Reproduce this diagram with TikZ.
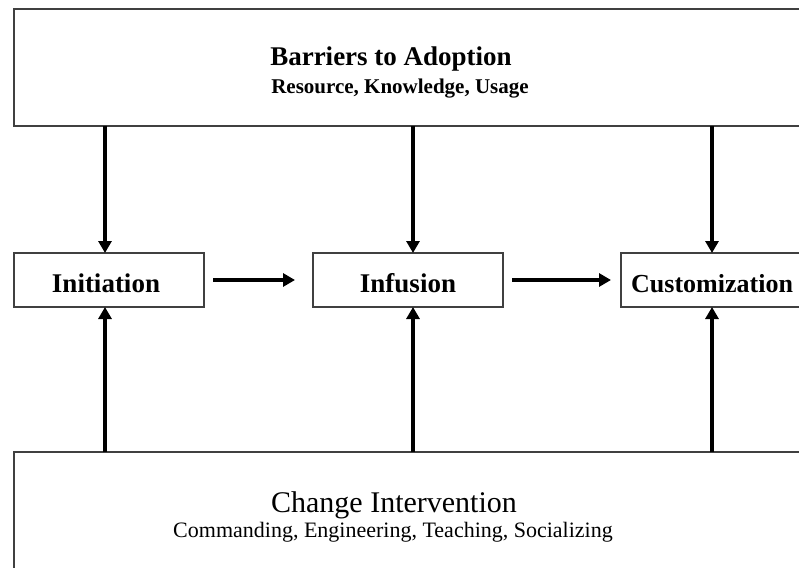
\documentclass[tikz,border=0pt]{standalone}
\usepackage{fontspec}
\setmainfont{Liberation Serif}
\usetikzlibrary{arrows.meta}
\definecolor{boxgray}{HTML}{404040}
\begin{document}
\begin{tikzpicture}[x=1pt,y=-1pt,
  box/.style={draw=boxgray, line width=2pt, inner sep=0pt, outer sep=0pt},
  arr/.style={line width=3.8pt, -{Triangle[length=12pt,width=13pt]}},
  bigtitle/.style={font=\fontsize{27}{30}\selectfont\bfseries, anchor=base, inner sep=0pt},
  subtitle/.style={font=\fontsize{21}{24}\selectfont\bfseries, anchor=base, inner sep=0pt},
  lowtitle/.style={font=\fontsize{30}{33}\selectfont, anchor=base, inner sep=0pt},
  lowsub/.style={font=\fontsize{22}{25}\selectfont, anchor=base, inner sep=0pt},
  label/.style={font=\fontsize{27}{30}\selectfont\bfseries, anchor=base, inner sep=0pt}]
\useasboundingbox (0,0) rectangle (799,567);
\fill[white] (0,0) rectangle (799,567);
\clip (0,0) rectangle (799,567);
% boxes
\node[box, minimum width=816pt, minimum height=117pt] (barriers) at (422,67.5) {};
\node[box, minimum width=190pt, minimum height=54pt] (initiation) at (109,280) {};
\node[box, minimum width=190pt, minimum height=54pt] (infusion) at (408,280) {};
\node[box, minimum width=209pt, minimum height=54pt] (custom) at (725.5,280) {};
\node[box, minimum width=816pt, minimum height=168pt] (change) at (422,536) {};
% texts
\node[bigtitle] (bt) at (391,66) {Barriers to Adoption};
\node[subtitle] (bs) at (400,94) {Resource, Knowledge, Usage};
\node[label] (lini) at (106,292) {Initiation};
\node[label] (linf) at (408,292) {Infusion};
\node[label, anchor=base west, font=\fontsize{26}{29}\selectfont\bfseries] (lcus) at (631,292) {Customization};
\node[lowtitle] (ct) at (394,512) {Change Intervention};
\node[lowsub] (cs) at (393,537) {Commanding, Engineering, Teaching, Socializing};
% arrows from barriers
\draw[arr] ([xshift=-4pt]initiation.north |- barriers.south) -- ([xshift=-4pt]initiation.north);
\draw[arr] ([xshift=5pt]infusion.north |- barriers.south) -- ([xshift=5pt]infusion.north);
\draw[arr] ([xshift=-13.5pt]custom.north |- barriers.south) -- ([xshift=-13.5pt]custom.north);
% arrows from change
\draw[arr] ([xshift=-4pt]initiation.south |- change.north) -- ([xshift=-4pt]initiation.south);
\draw[arr] ([xshift=5pt]infusion.south |- change.north) -- ([xshift=5pt]infusion.south);
\draw[arr] ([xshift=-13.5pt]custom.south |- change.north) -- ([xshift=-13.5pt]custom.south);
% horizontal
\draw[arr] ([xshift=9pt]initiation.east) -- ([xshift=-18pt]infusion.west);
\draw[arr] ([xshift=9pt]infusion.east) -- ([xshift=-10pt]custom.west);
\end{tikzpicture}
\end{document}
